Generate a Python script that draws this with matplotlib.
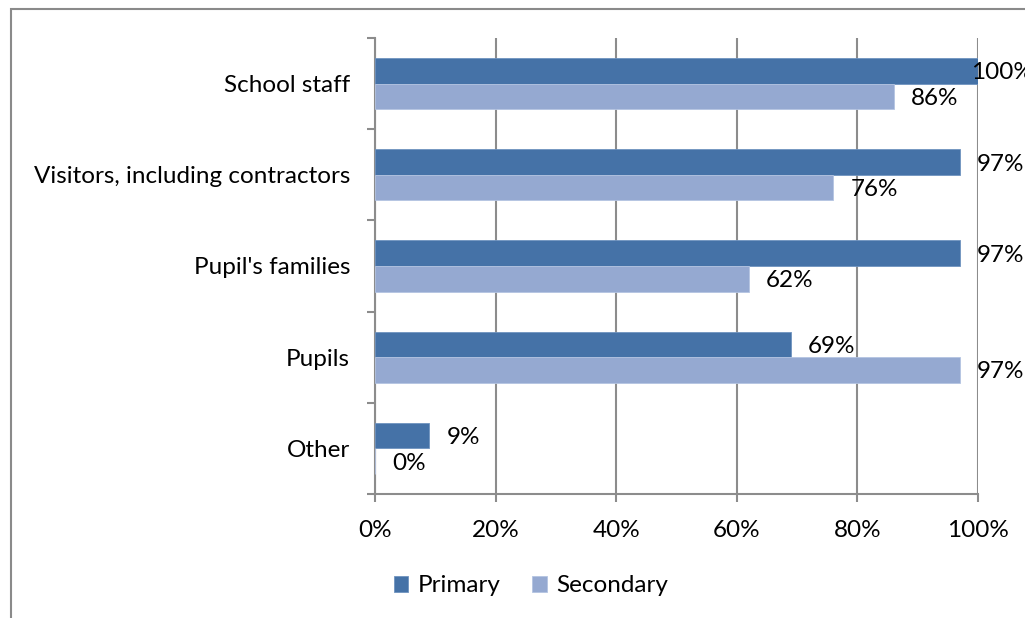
import matplotlib.pyplot as plt
import numpy as np
from matplotlib.patches import Rectangle
from matplotlib.ticker import FuncFormatter

plt.rcParams['font.family'] = ['Lato', 'DejaVu Sans']

# survey results, top to bottom
categories = ['School staff', 'Visitors, including contractors', "Pupil's families", 'Pupils', 'Other']
primary = [100, 97, 97, 69, 9]
secondary = [86, 76, 62, 97, 0]

c_primary = '#4572A7'
c_secondary = '#95A9D1'
grid_c = '#8C8C8C'

fig = plt.figure(figsize=(10.25, 6.18), dpi=100)
# outer chart border (runs off the right and bottom edges)
fig.patches.append(Rectangle((11 / 1025, -0.1), 1.2, 1 - 9 / 618 + 0.1, transform=fig.transFigure,
                             fill=False, edgecolor='#8A8A8A', lw=1.5))

ax = fig.add_axes([375 / 1025, 1 - 494 / 618, 603 / 1025, 456 / 618])

n = len(categories)
y = np.arange(n)[::-1]
h = 0.28
ax.barh(y + h / 2, primary, height=h, color=c_primary, edgecolor='#6F93C0', lw=0.6, label='Primary', zorder=3)
ax.barh(y - h / 2, secondary, height=h, color=c_secondary, edgecolor='#B4C4E2', lw=0.6, label='Secondary', zorder=3)

fs = 17.5
for yy, v in zip(y + h / 2, primary):
    dx = 17 if v < 99 else -7
    ax.annotate(f'{v}%', (v, yy), xytext=(dx, -2), textcoords='offset pixels',
                va='center', ha='left', fontsize=fs, annotation_clip=False, zorder=4)
for yy, v in zip(y - h / 2, secondary):
    ax.annotate(f'{v}%', (v, yy), xytext=(17, -2), textcoords='offset pixels',
                va='center', ha='left', fontsize=fs, annotation_clip=False, zorder=4)

ax.set_xlim(0, 100)
ax.set_ylim(-0.5, n - 0.5)
ax.set_xticks(range(0, 101, 20))
ax.xaxis.set_major_formatter(FuncFormatter(lambda v, p: f'{v:.0f}%'))
ax.grid(axis='x', color=grid_c, lw=1.5, zorder=0)

ax.set_yticks(y)
ax.set_yticklabels(categories)
ax.set_yticks(np.arange(-0.5, n), minor=True)
ax.tick_params(axis='y', which='major', length=0, pad=18, labelsize=fs)
ax.tick_params(axis='y', which='minor', length=6, width=1.5, color=grid_c, direction='out')
ax.tick_params(axis='x', length=6, width=1.5, color=grid_c, direction='out', pad=13, labelsize=fs)

for s in ['top', 'right']:
    ax.spines[s].set_visible(False)
for s in ['left', 'bottom']:
    ax.spines[s].set_color(grid_c)
    ax.spines[s].set_linewidth(1.5)

fig.legend(loc='center', bbox_to_anchor=(531 / 1025, 1 - 586 / 618), ncol=2, frameon=False,
           fontsize=fs, handlelength=0.6, handleheight=0.6, handletextpad=0.4, columnspacing=1.3)

fig.savefig('out.png', dpi=100)
